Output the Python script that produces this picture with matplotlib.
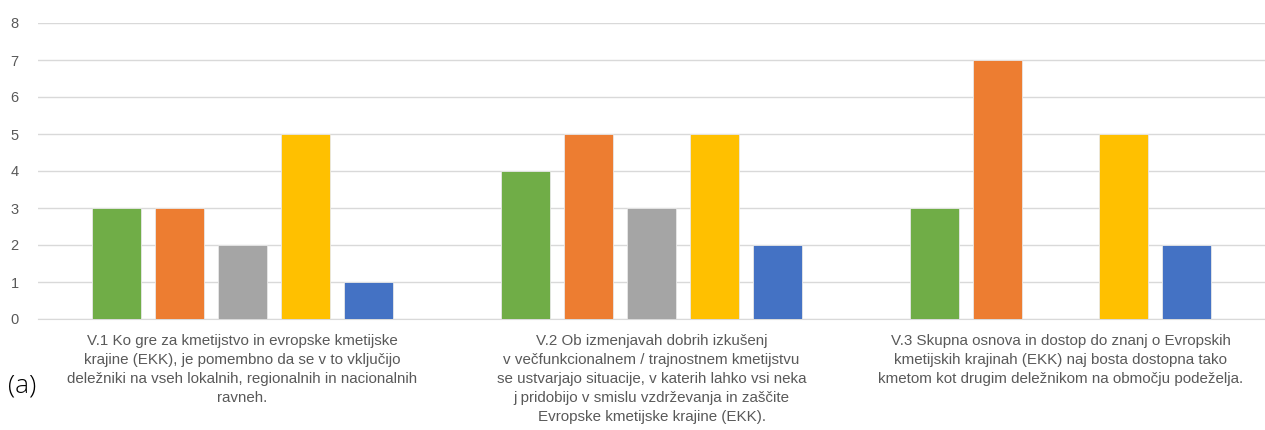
import matplotlib.pyplot as plt
import numpy as np

plt.rcParams['font.family'] = ['Liberation Sans', 'DejaVu Sans']

categories = [
    "V.1 Ko gre za kmetijstvo in evropske kmetijske\nkrajine (EKK), je pomembno da se v to vključijo\ndeležniki na vseh lokalnih, regionalnih in nacionalnih\nravneh.",
    "V.2 Ob izmenjavah dobrih izkušenj\nv večfunkcionalnem / trajnostnem kmetijstvu\nse ustvarjajo situacije, v katerih lahko vsi neka\nj pridobijo v smislu vzdrževanja in zaščite\nEvropske kmetijske krajine (EKK).",
    "V.3 Skupna osnova in dostop do znanj o Evropskih\nkmetijskih krajinah (EKK) naj bosta dostopna tako\nkmetom kot drugim deležnikom na območju podeželja.",
]
series_green = [3, 4, 3]
series_orange = [3, 5, 7]
series_gray = [2, 3, 0]
series_yellow = [5, 5, 5]
series_blue = [1, 2, 2]
colors = ['#70AD47', '#ED7D31', '#A5A5A5', '#FFC000', '#4472C4']
yticks = [0, 1, 2, 3, 4, 5, 6, 7, 8]

fig = plt.figure(figsize=(12.65, 4.30), dpi=100)
ax = fig.add_axes([38 / 1265, 111 / 430, 1 - 38 / 1265, 296 / 430])

x = np.arange(len(categories))
width = 0.12
step = 0.154
all_series = [series_green, series_orange, series_gray, series_yellow, series_blue]
for i, (vals, c) in enumerate(zip(all_series, colors)):
    ax.bar(x + (i - 2) * step, vals, width, color=c, edgecolor='#e8e8e8', linewidth=0.6, zorder=3)

ax.set_xlim(-0.5, 2.5)
ax.set_ylim(0, 8)
ax.set_yticks(yticks)
ax.yaxis.grid(True, color='#d9d9d9', linewidth=1, zorder=0)
ax.tick_params(axis='y', length=0, pad=14, labelsize=10.5, labelcolor='#595959')
ax.set_xticks(x)
ax.set_xticklabels(categories, fontsize=10.9, color='#595959', linespacing=1.44)
ax.tick_params(axis='x', length=0, pad=11)
for s in ['top', 'right', 'left']:
    ax.spines[s].set_visible(False)
ax.spines['bottom'].set_color('#d9d9d9')

fig.text(8 / 1265, 1 - 386 / 430, '(a)', fontsize=19, color='black',
         va='center', ha='left', family=['Open Sans', 'DejaVu Sans'], fontweight='light')

fig.savefig('out.png', dpi=100)
